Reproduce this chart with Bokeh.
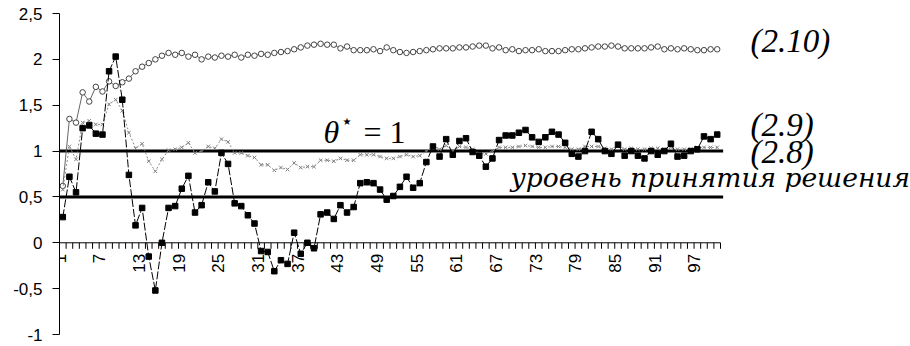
import math
from bokeh.plotting import figure
from bokeh.models import Label, Range1d, FixedTicker
from bokeh.core.properties import value
from bokeh.embed import file_html
from bokeh.resources import INLINE

# ---------------- data ----------------
steps = list(range(1, 101))

# (2.9) black squares
s29 = [0.28, 0.72, 0.55, 1.25, 1.28, 1.19, 1.18, 1.87, 2.03, 1.56,
       0.74, 0.19, 0.38, -0.15, -0.52, 0.00, 0.38, 0.40, 0.59, 0.73,
       0.33, 0.41, 0.66, 0.56, 0.98, 0.86, 0.43, 0.40, 0.30, 0.21,
       -0.09, -0.10, -0.31, -0.19, -0.23, 0.11, -0.12, 0.00, -0.06, 0.31,
       0.33, 0.26, 0.41, 0.33, 0.39, 0.65, 0.66, 0.65, 0.58, 0.47,
       0.51, 0.61, 0.72, 0.60, 0.65, 0.88, 1.05, 0.94, 1.13, 0.96,
       1.11, 1.14, 0.99, 0.95, 0.83, 0.92, 1.12, 1.17, 1.17, 1.20,
       1.23, 1.15, 1.10, 1.15, 1.21, 1.18, 1.09, 0.97, 0.94, 1.00,
       1.21, 1.13, 1.00, 0.97, 1.07, 0.95, 1.00, 0.95, 0.92, 1.00,
       0.96, 1.00, 1.08, 0.94, 0.95, 1.00, 1.02, 1.16, 1.13, 1.18]

# (2.8) grey crosses
s28 = [0.58, 1.05, 0.91, 1.31, 1.33, 1.29, 1.29, 1.51, 1.56, 1.44,
       1.20, 1.03, 1.08, 0.89, 0.78, 0.91, 1.01, 1.02, 1.04, 1.09,
       0.98, 1.00, 1.05, 1.03, 1.13, 1.10, 0.98, 0.98, 0.95, 0.93,
       0.85, 0.85, 0.79, 0.82, 0.80, 0.87, 0.82, 0.83, 0.83, 0.90,
       0.90, 0.89, 0.92, 0.90, 0.90, 0.96, 0.96, 0.96, 0.94, 0.92,
       0.92, 0.94, 0.96, 0.94, 0.95, 1.00, 1.06, 1.02, 1.06, 1.00,
       1.05, 1.04, 1.02, 0.97, 0.97, 1.00, 1.04, 1.04, 1.04, 1.05,
       1.06, 1.05, 1.04, 1.04, 1.05, 1.05, 1.04, 1.02, 1.02, 1.05,
       1.05, 1.05, 1.03, 1.02, 1.06, 1.02, 1.03, 1.02, 1.02, 1.03,
       1.03, 1.02, 1.04, 1.02, 1.02, 1.02, 1.04, 1.04, 1.04, 1.04]

# (2.10) grey open circles
s210 = [0.62, 1.35, 1.31, 1.64, 1.54, 1.70, 1.65, 1.76, 1.71, 1.75,
        1.79, 1.87, 1.92, 1.96, 2.00, 2.04, 2.07, 2.05, 2.07, 2.03,
        2.05, 2.00, 2.03, 2.02, 2.04, 2.03, 2.05, 2.02, 2.05, 2.04,
        2.06, 2.05, 2.07, 2.08, 2.09, 2.11, 2.13, 2.15, 2.16, 2.17,
        2.16, 2.16, 2.12, 2.14, 2.10, 2.10, 2.10, 2.11, 2.09, 2.13,
        2.10, 2.08, 2.07, 2.08, 2.09, 2.10, 2.11, 2.12, 2.12, 2.12,
        2.13, 2.13, 2.14, 2.15, 2.15, 2.12, 2.13, 2.10, 2.11, 2.09,
        2.10, 2.10, 2.11, 2.09, 2.09, 2.09, 2.10, 2.11, 2.11, 2.12,
        2.13, 2.14, 2.14, 2.15, 2.14, 2.12, 2.12, 2.12, 2.12, 2.13,
        2.14, 2.11, 2.12, 2.11, 2.12, 2.11, 2.10, 2.10, 2.11, 2.11]

x_tick_steps = list(range(1, 101, 6))
x_tick_labels = [str(v) for v in x_tick_steps]
y_ticks = [-1.0, -0.5, 0.0, 0.5, 1.0, 1.5, 2.0, 2.5]
y_tick_labels = ["-1", "-0,5", "0", "0,5", "1", "1,5", "2", "2,5"]

threshold_levels = [1.0, 0.5]
series_names = ["(2.10)", "(2.9)", "(2.8)"]
theta_text = ["\u03b8", "\u2605", "= 1"]
decision_text = "уровень принятия решения"

# ---------------- layout ----------------
W, H = 910, 346
LEFT, TOP, BOTTOM = 59, 13, 12
CAT_PX = 6.61                      # pixel width of one step
frame_w = W - LEFT
x_start = steps[0] - 0.5
x_end = x_start + frame_w / CAT_PX
frame_h = H - TOP - BOTTOM
px_per_unit = frame_h / (y_ticks[-1] - y_ticks[0])
axis_end = steps[-1] + 0.5

SANS = "'Liberation Sans', Arial, sans-serif"
SERIF = "'Liberation Serif', 'Times New Roman', serif"
DSERIF = "'DejaVu Serif', serif"

p = figure(width=W, height=H, output_backend="svg", toolbar_location=None,
           x_axis_location=None, title=None,
           x_range=Range1d(x_start, x_end), y_range=Range1d(y_ticks[0], y_ticks[-1]),
           min_border_left=LEFT, min_border_right=0,
           min_border_top=TOP, min_border_bottom=BOTTOM)
p.outline_line_color = None
p.grid.visible = False
p.background_fill_color = "white"
p.border_fill_color = "white"

ax = p.yaxis[0]
ax.ticker = FixedTicker(ticks=y_ticks)
ax.major_label_overrides = {k: v for k, v in zip(y_ticks, y_tick_labels)}
ax.major_label_text_font = SANS
ax.major_label_text_font_size = "17px"
ax.major_label_text_color = "black"
ax.major_tick_in = 0
ax.major_tick_out = 7
ax.minor_tick_out = 0
ax.minor_tick_in = 0
ax.major_label_standoff = 10
ax.axis_line_color = "black"
ax.major_tick_line_color = "black"

# horizontal axis at y = 0 (category axis crossing at zero)
p.segment(x0=[x_start], y0=[0], x1=[axis_end], y1=[0], line_color="black", line_width=1)
bounds = [s + 0.5 for s in steps]
tick_len = 6 / px_per_unit
p.segment(x0=bounds, y0=[0] * len(bounds), x1=bounds, y1=[-tick_len] * len(bounds),
          line_color="black", line_width=1)
p.text(x=x_tick_steps, y=[0] * len(x_tick_steps), text=x_tick_labels,
       angle=math.pi / 2, text_align="right", text_baseline="middle",
       x_offset=-3, y_offset=11,
       text_font=value(SANS), text_font_size="17px", text_color="black")

# threshold lines
n_lv = len(threshold_levels)
p.segment(x0=[x_start] * n_lv, y0=threshold_levels, x1=[axis_end + 0.4] * n_lv,
          y1=threshold_levels, line_color="black", line_width=3)

# series
p.line(steps, s210, line_color="#666666", line_width=1)
p.scatter(steps, s210, marker="circle", size=5.5, line_color="#444444",
          fill_color="white", line_width=1)

p.line(steps, s28, line_color="#8a8a8a", line_width=1, line_dash="2 2")
p.scatter(steps, s28, marker="x", size=5, line_color="#808080", line_width=1)

p.line(steps, s29, line_color="black", line_width=1, line_dash="8 2")
p.scatter(steps, s29, marker="square", size=5.5, fill_color="black", line_color="black")

# annotations
def lab(x, y, t, size, font=SERIF, style="italic", align="left"):
    p.add_layout(Label(x=x, y=y, text=t, text_font=font, text_font_size=size,
                       text_font_style=style, text_baseline="middle",
                       text_align=align, text_color="black"))

def dx(px):
    return x_start + (px - LEFT) / CAT_PX

def dy(py):
    return y_ticks[-1] - (py - TOP) / px_per_unit

lab(dx(750), dy(40), series_names[0], "33px")
lab(dx(750), dy(124), series_names[1], "33px")
lab(dx(750), dy(151), series_names[2], "33px")
lab(dx(510), dy(177), decision_text, "26.5px", font=DSERIF)
lab(dx(323), dy(131), theta_text[0], "32px")
lab(dx(342), dy(121), theta_text[1], "10px", font="'DejaVu Sans', sans-serif", style="normal")
lab(dx(363), dy(131), theta_text[2], "32px", style="normal")

open("out.html", "w").write(file_html(p, INLINE))
